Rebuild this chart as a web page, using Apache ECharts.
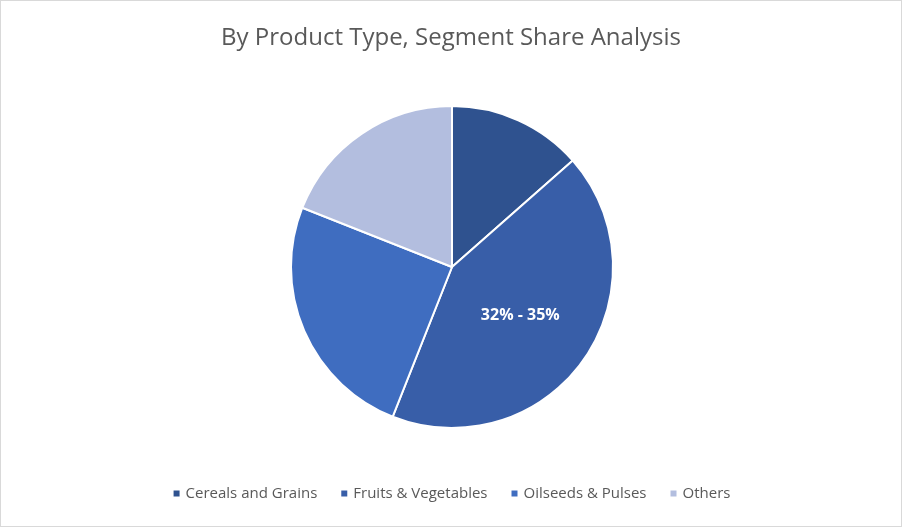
<!DOCTYPE html>
<html><head><meta charset="utf-8">
<script src="https://cdn.jsdelivr.net/npm/echarts@6/dist/echarts.min.js"></script>
<style>html,body{margin:0;padding:0;background:#fff}#c{width:900px;height:525px;border:1px solid #d9d9d9}</style>
</head><body><div id="c"></div>
<script>
var categories = ['Cereals and Grains', 'Fruits & Vegetables', 'Oilseeds & Pulses', 'Others'];
var values = [13.5, 42.5, 25, 19];
var labels = ['', '32% - 35%', '', ''];
var colors = ['#2F528F', '#385EA8', '#3F6DC0', '#B3BEDF'];

var chart = echarts.init(document.getElementById('c'));
var data = [];
for (var i = 0; i < categories.length; i++) {
    data.push({name: categories[i], value: values[i], label: {show: labels[i] !== '', formatter: labels[i]}});
}
chart.setOption({
    color: colors,
    title: {
        text: 'By Product Type, Segment Share Analysis',
        left: 'center', top: 20,
        textStyle: {fontFamily: 'Open Sans', fontSize: 24, fontWeight: 'normal', color: '#595959'}
    },
    legend: {
        bottom: 20, left: 'center',
        icon: 'rect', itemWidth: 8, itemHeight: 8, itemGap: 22,
        textStyle: {fontFamily: 'Open Sans', fontSize: 15, color: '#595959'},
        data: categories
    },
    series: [{
        type: 'pie',
        radius: 161,
        center: [451, 266],
        startAngle: 90,
        clockwise: true,
        itemStyle: {borderColor: '#fff', borderWidth: 2},
        label: {position: 'inside', color: '#fff', fontFamily: 'Open Sans', fontWeight: 'bold', fontSize: 16},
        labelLine: {show: false},
        emphasis: {disabled: true},
        data: data
    }]
});
</script></body></html>
